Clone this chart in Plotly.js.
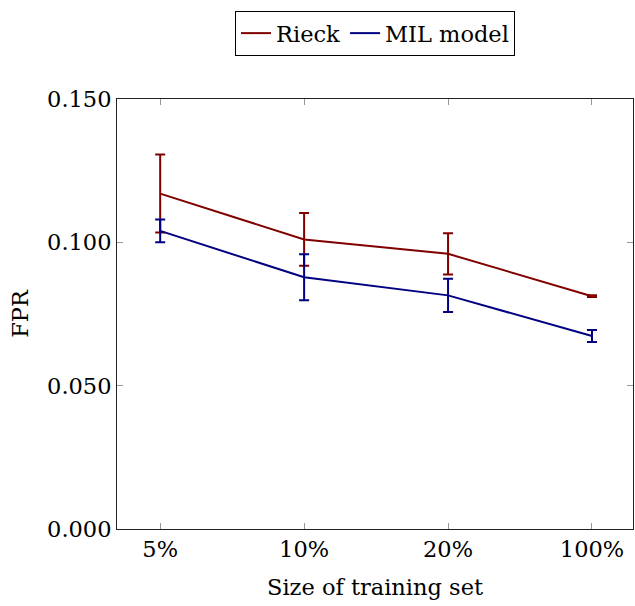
<!DOCTYPE html>
<html>
<head>
<meta charset="utf-8">
<script src="https://cdn.plot.ly/plotly-3.0.1.min.js"></script>
<style>html,body{margin:0;padding:0;background:#fff;}</style>
</head>
<body>
<div id="chart" style="width:635px;height:606px;"></div>
<script>
const categories = ["5%", "10%", "20%", "100%"];
const rieckFPR = [0.117, 0.101, 0.096, 0.0812];
const rieckErr = [0.0136, 0.0092, 0.0072, 0.0003];
const milFPR = [0.104, 0.0878, 0.0815, 0.0673];
const milErr = [0.004, 0.008, 0.0058, 0.0021];
const yTicks = [0, 0.05, 0.1, 0.15];
const yTickText = ["0.000", "0.050", "0.100", "0.150"];

const font = {family: "'DejaVu Serif', serif", size: 22.5, color: "#000"};
const red = "#800000", blue = "#000080";

const traces = [
  {x: categories, y: rieckFPR, name: "Rieck", type: "scatter", mode: "lines",
   line: {color: red, width: 2},
   error_y: {type: "data", array: rieckErr, visible: true, color: red, thickness: 2, width: 5}},
  {x: categories, y: milFPR, name: "MIL model", type: "scatter", mode: "lines",
   line: {color: blue, width: 2},
   error_y: {type: "data", array: milErr, visible: true, color: blue, thickness: 2, width: 5}}
];

const layout = {
  width: 635, height: 606,
  margin: {l: 117, r: 2, t: 99, b: 77},
  paper_bgcolor: "#fff", plot_bgcolor: "#fff",
  font: font,
  showlegend: true,
  legend: {orientation: "h", x: 0.5, xanchor: "center", y: 1.1, yanchor: "bottom",
    bordercolor: "#000", borderwidth: 1, font: font, tracegroupgap: 0, itemwidth: 30},
  xaxis: {type: "category", range: [-0.3, 3.285], showgrid: false, zeroline: false,
    showline: true, linecolor: "#222", linewidth: 1, mirror: "ticks",
    ticks: "inside", ticklen: 6, tickcolor: "#999", tickwidth: 1,
    tickfont: font, title: {text: "Size of training set", font: font, standoff: 18}},
  yaxis: {range: [0, 0.15], tickvals: yTicks, ticktext: yTickText, showgrid: false, zeroline: false,
    showline: true, linecolor: "#222", linewidth: 1, mirror: "ticks",
    ticks: "inside", ticklen: 6, tickcolor: "#999", tickwidth: 1,
    tickfont: font, title: {text: "FPR", font: font, standoff: 12}}
};

Plotly.newPlot("chart", traces, layout, {displayModeBar: false, staticPlot: true});
</script>
</body>
</html>
